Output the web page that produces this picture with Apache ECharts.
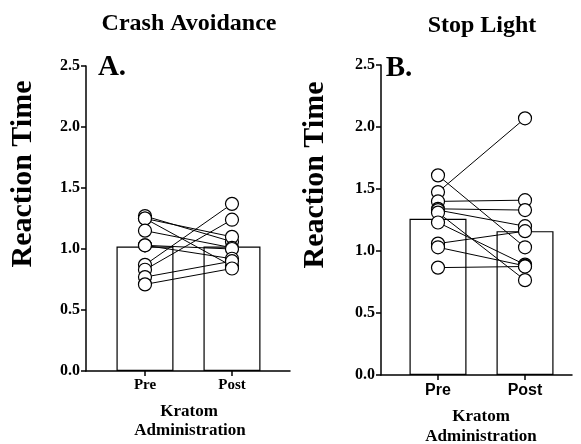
<!DOCTYPE html>
<html>
<head>
<meta charset="utf-8">
<script src="https://cdn.jsdelivr.net/npm/echarts@6/dist/echarts.min.js"></script>
<style>
  html, body { margin: 0; padding: 0; background: #fff; }
  #main { width: 581px; height: 444px; }
</style>
</head>
<body>
<div id="main"></div>
<script>
// conditions on the x axis
const conditions = ['Pre', 'Post'];
const yTicks = [0, 0.5, 1.0, 1.5, 2.0, 2.5];

// A. Crash Avoidance - group means and individual subjects (pre, post)
const crashMeans = [1.02, 1.02];
const crashPre  = [1.27, 1.25, 1.25, 1.15, 1.03, 1.03, 0.87, 0.83, 0.77, 0.71];
const crashPost = [1.06, 0.86, 1.10, 1.01, 1.00, 0.92, 1.37, 1.24, 0.90, 0.84];

// B. Stop Light
const stopMeans = [1.26, 1.16];
const stopPre  = [1.475, 1.61, 1.40, 1.34, 1.33, 1.31, 1.23, 1.06, 1.03, 0.866];
const stopPost = [2.07, 1.03, 1.41, 1.33, 1.20, 0.765, 0.89, 1.16, 0.88, 0.875];

const serif = '"Liberation Serif", "Times New Roman", serif';
const sans = '"Liberation Sans", Arial, sans-serif';

var myChart = echarts.init(document.getElementById('main'));

function xAxisFor(idx, min, max, labelFont, labelSize, margin) {
  return {
    gridIndex: idx,
    type: 'value',
    min: min,
    max: max,
    splitLine: { show: false },
    axisLine: { show: true, onZero: false, lineStyle: { color: '#000', width: 1.5 } },
    axisTick: { show: true, customValues: [1, 2], length: 5, lineStyle: { color: '#000', width: 1.5 } },
    axisLabel: {
      customValues: [1, 2],
      formatter: v => conditions[Math.round(v) - 1],
      color: '#000',
      fontFamily: labelFont,
      fontWeight: 'bold',
      fontSize: labelSize,
      margin: margin
    }
  };
}

function yAxisFor(idx) {
  return {
    gridIndex: idx,
    type: 'value',
    min: 0,
    max: 2.5,
    interval: 0.5,
    splitLine: { show: false },
    axisLine: { show: true, lineStyle: { color: '#000', width: 1.5 } },
    axisTick: { show: true, length: 5, lineStyle: { color: '#000', width: 1.5 } },
    axisLabel: {
      formatter: v => v.toFixed(1),
      color: '#000',
      fontFamily: serif,
      fontWeight: 'bold',
      fontSize: 16,
      margin: 6
    }
  };
}

function panelSeries(idx, means, pre, post) {
  const out = [{
    type: 'bar',
    xAxisIndex: idx,
    yAxisIndex: idx,
    barWidth: 57,
    data: means.map((m, i) => [i + 1, m]),
    itemStyle: { color: '#fff', borderColor: '#000', borderWidth: 1.2 },
    silent: true,
    z: 1
  }];
  pre.forEach((p, i) => {
    out.push({
      type: 'line',
      xAxisIndex: idx,
      yAxisIndex: idx,
      data: [[1, p], [2, post[i]]],
      symbol: 'circle',
      symbolSize: 13,
      showSymbol: true,
      lineStyle: { color: '#000', width: 1 },
      itemStyle: { color: '#fff', borderColor: '#000', borderWidth: 1.2 },
      z: 3,
      animation: false
    });
  });
  return out;
}

function txt(x, y, text, font, extra) {
  return Object.assign({
    type: 'text',
    x: x,
    y: y,
    style: { text: text, font: font, fill: '#000', align: 'center', verticalAlign: 'middle' }
  }, extra || {});
}

const option = {
  backgroundColor: '#fff',
  animation: false,
  grid: [
    { left: 86, top: 66, width: 204, height: 305 },
    { left: 381, top: 65, width: 191, height: 310 }
  ],
  xAxis: [
    xAxisFor(0, 0.322, 2.667, serif, 15, 7),
    xAxisFor(1, 0.345, 2.54, sans, 16, 8)
  ],
  yAxis: [yAxisFor(0), yAxisFor(1)],
  series: panelSeries(0, crashMeans, crashPre, crashPost)
    .concat(panelSeries(1, stopMeans, stopPre, stopPost)),
  graphic: [
    txt(189, 24, 'Crash Avoidance', 'bold 24px ' + serif),
    txt(482, 26, 'Stop Light', 'bold 24px ' + serif),
    txt(112, 68, 'A.', 'bold 29px ' + serif),
    txt(399, 69, 'B.', 'bold 29px ' + serif),
    txt(23, 174, 'Reaction Time', 'bold 30px ' + serif, { rotation: Math.PI / 2 }),
    txt(315, 175, 'Reaction Time', 'bold 30px ' + serif, { rotation: Math.PI / 2 }),
    txt(189, 412, 'Kratom', 'bold 17px ' + serif),
    txt(190, 431, 'Administration', 'bold 17px ' + serif),
    txt(481, 417, 'Kratom', 'bold 17px ' + serif),
    txt(481, 437, 'Administration', 'bold 17px ' + serif)
  ]
};

myChart.setOption(option);
</script>
</body>
</html>
